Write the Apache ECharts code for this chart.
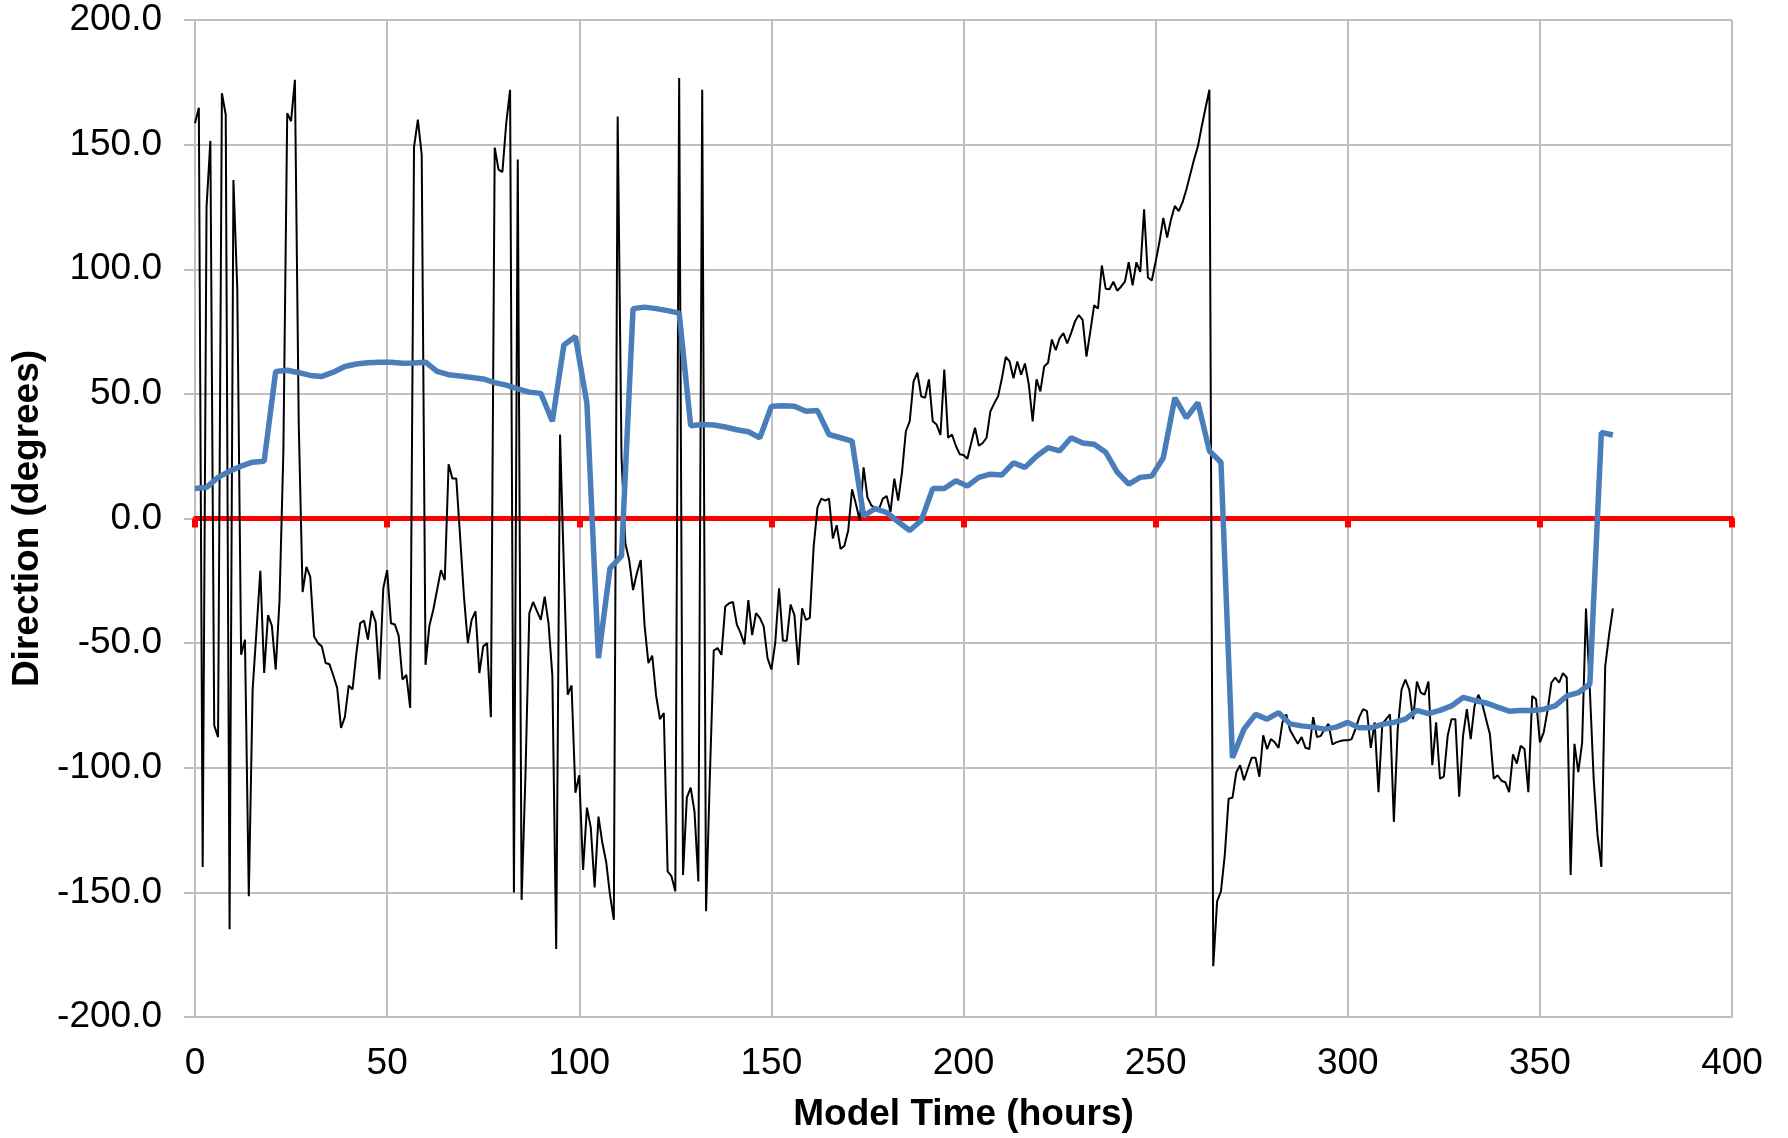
<!DOCTYPE html>
<html>
<head>
<meta charset="utf-8">
<title>Direction vs model time</title>
<script src="https://cdn.jsdelivr.net/npm/echarts@6/dist/echarts.min.js"></script>
<style>
  html, body { margin: 0; padding: 0; background: #fff; }
  #chart { width: 1788px; height: 1138px; }
</style>
</head>
<body>
<div id="chart"></div>
<script>
// hourly direction (black), one value per model hour starting at 0
const hourlyDirection = [
  158.6, 164.8, -139.8, 125, 151.5, -83, -87.7, 170.6, 162, -164.8,
  135.8, 92.2, -54.7, -48.6, -151.5, -68.6, -45, -21, -62, -38.8,
  -43, -60.6, -32.7, 27, 162.6, 159.4, 176, 37.7, -29.5, -19.4,
  -23.4, -47.3, -50, -51.3, -58, -58.5, -63, -68, -84, -79.7,
  -67, -68.6, -54, -42, -41, -48.6, -37, -41.5, -64.6, -28,
  -20.7, -42, -42.5, -47, -64.6, -62.7, -76, 149, 160, 146,
  -58.7, -43, -36.7, -28.7, -20.7, -24.7, 21.8, 16, 16, -7.4,
  -31.4, -50, -40.7, -37.2, -62, -51.3, -50, -79.7, 148.8, 140,
  139, 158.6, 172, -150, 144, -153, -103, -38, -33.5, -37.2,
  -40.7, -31.4, -42, -63, -172.7, 33.7, -20, -70.7, -67, -110,
  -103, -141, -116, -124, -148, -119.6, -130, -137.7, -151, -161,
  161.3, 24.4, -10, -16.7, -28.7, -22, -16.7, -43, -58, -55,
  -71, -80.5, -78, -141.6, -143.5, -149.6, 176.7, -143, -112, -108,
  -117.7, -145.6, 172, -157.6, -103, -53, -52, -54.7, -35.3, -34,
  -33.5, -42.5, -46, -50.5, -32.7, -46.8, -38, -39.9, -43.3, -56,
  -60.6, -50, -28, -49, -49, -34.5, -38.8, -58.7, -36, -40.7,
  -39.9, -11.4, 4.5, 8, 7.2, 8, -8, -2.7, -12.2, -10.9,
  -4.8, 11.7, 5.8, -0.8, 20.5, 8.5, 5.3, 4.3, 3.7, 8,
  9, 2.7, 16, 7.2, 18.6, 35, 39, 55, 58.5, 49,
  48.4, 55.8, 39, 37.7, 33.5, 59.8, 32.4, 33.7, 29.2, 25.8,
  25.5, 24, 30.3, 36.4, 29.2, 30.3, 32.4, 43, 46.2, 49,
  56.3, 64.8, 63, 56.3, 63, 57.7, 62.2, 53.7, 39, 55.8,
  51, 61, 62.5, 71.8, 67.5, 72.3, 74.4, 70.2, 74.4, 79,
  81.6, 79.7, 65, 75, 85.6, 84.2, 101.5, 92.2, 92, 95,
  91.4, 93, 95, 102.8, 93.5, 102.8, 98.9, 124, 96.7, 95.5,
  103, 111, 120.6, 112.7, 120, 125.4, 123.3, 126.8, 132, 138,
  144, 149.3, 157.3, 164.8, 172, -179.6, -153.6, -149.6, -135, -112.4,
  -112, -101.8, -99, -105, -100.4, -96, -96, -103.6, -87, -92.5,
  -88.5, -89.8, -92, -81.8, -78.6, -85, -87.7, -90.4, -87.7, -92,
  -92.5, -79.7, -87.7, -87.2, -84.5, -82.4, -90.6, -89.8, -89.3, -89,
  -89, -88.5, -84.5, -79.7, -76.5, -77.3, -92, -81.8, -109.8, -82.4,
  -80.5, -78.6, -121.7, -84.5, -68.6, -64.6, -68.6, -80.5, -65.4, -69.9,
  -70.7, -65.4, -99, -81.8, -104.4, -103.6, -87.2, -80.5, -80.5, -111.6,
  -87.2, -76.5, -88.5, -75.2, -70.7, -74.4, -80.5, -86.6, -104.4, -103,
  -105.2, -105.8, -109.8, -94.6, -98.3, -91.2, -92.5, -109.8, -71.2, -72.5,
  -89.8, -85.8, -77, -65.9, -63.8, -65.9, -62, -63.8, -143, -90.4,
  -101.8, -89.8, -36.1, -68.6, -104.4, -127, -139.8, -59.3, -46.8, -36.1
];
const hourlyStep = 1;

// smoothed direction (blue), one value every 3 hours starting at 0
const smoothDirection = [
  12, 12.5, 16.5, 19, 21, 22.6, 23, 59, 59.5, 58.5,
  57.4, 57, 58.7, 61, 62, 62.5, 62.7, 62.7, 62.3, 62.4,
  62.7, 59, 57.7, 57.2, 56.6, 56, 54.5, 53.5, 52, 50.7,
  50.2, 39, 69.6, 73, 46.2, -56, -20, -15, 84.2, 84.8,
  84.2, 83.4, 82.4, 37.2, 37.7, 37.5, 36.7, 35.6, 34.8, 32.4,
  45, 45.2, 45, 43, 43.3, 33.7, 32.4, 31, 1, 4,
  2.4, -1.3, -4.8, -0.8, 12, 12, 15.1, 13, 16.5, 17.8,
  17.5, 22.3, 20.5, 25, 28.4, 27.1, 32.4, 30.3, 29.8, 26.6,
  18.6, 13.8, 16.5, 17, 24.4, 48.4, 40.4, 46.5, 27.1, 22.6,
  -96, -84.5, -78.6, -80.5, -77.9, -82.4, -83.2, -83.7, -84.5, -83.7,
  -81.8, -84, -84, -82.6, -81.8, -80.5, -77, -78.3, -77, -75.2,
  -71.8, -73, -74, -75.7, -77.3, -77, -77, -76.5, -75.2, -71.2,
  -69.9, -66.4, 34.5, 33.5
];
const smoothStep = 3;

const xMin = 0, xMax = 400, xInterval = 50;
const yMin = -200, yMax = 200, yInterval = 50;

const FONT = 'Liberation Sans, Arial, sans-serif';
const GRID_GREY = '#bfbfbf';

const chart = echarts.init(document.getElementById('chart'));

const option = {
  animation: false,
  backgroundColor: '#ffffff',
  grid: { left: 195, right: 56, top: 20, bottom: 121 },
  xAxis: [{
    type: 'value',
    min: xMin,
    max: xMax,
    interval: xInterval,
    position: 'bottom',
    name: 'Model Time (hours)',
    nameLocation: 'middle',
    nameGap: 79,
    nameTextStyle: { fontFamily: FONT, fontSize: 37, fontWeight: 'bold', color: '#000' },
    axisLine: { onZero: false, lineStyle: { color: GRID_GREY, width: 2 } },
    axisTick: { show: false },
    axisLabel: { fontFamily: FONT, fontSize: 37, color: '#000', margin: 28 },
    splitLine: { show: true, lineStyle: { color: GRID_GREY, width: 2 } }
  }, {
    // red zero line with its tick marks
    type: 'value',
    min: xMin,
    max: xMax,
    interval: xInterval,
    position: 'bottom',
    axisLine: { onZero: true, onZeroAxisIndex: 0, lineStyle: { color: '#ff0000', width: 5 } },
    axisTick: { show: true, inside: false, length: 9, lineStyle: { color: '#ff0000', width: 6 } },
    axisLabel: { show: false },
    splitLine: { show: false }
  }],
  yAxis: {
    type: 'value',
    min: yMin,
    max: yMax,
    interval: yInterval,
    name: 'Direction (degrees)',
    nameLocation: 'middle',
    nameGap: 146,
    nameTextStyle: { fontFamily: FONT, fontSize: 37, fontWeight: 'bold', color: '#000' },
    axisLine: { show: true, lineStyle: { color: GRID_GREY, width: 2 } },
    axisTick: { show: true, length: 11, lineStyle: { color: GRID_GREY, width: 2 } },
    axisLabel: {
      fontFamily: FONT, fontSize: 37, color: '#000', margin: 33,
      formatter: v => v.toFixed(1)
    },
    splitLine: { show: true, lineStyle: { color: GRID_GREY, width: 2 } }
  },
  series: [{
    name: 'Direction',
    type: 'line',
    xAxisIndex: 0,
    showSymbol: false,
    symbol: 'none',
    lineStyle: { color: '#000000', width: 2 },
    data: hourlyDirection.map((v, i) => [i * hourlyStep, v]),
    z: 3
  }, {
    name: 'Smoothed direction',
    type: 'line',
    xAxisIndex: 0,
    showSymbol: false,
    symbol: 'none',
    lineStyle: { color: '#4a7ebb', width: 5.5 },
    data: smoothDirection.map((v, i) => [i * smoothStep, v]),
    z: 4
  }]
};

chart.setOption(option);
</script>
</body>
</html>
